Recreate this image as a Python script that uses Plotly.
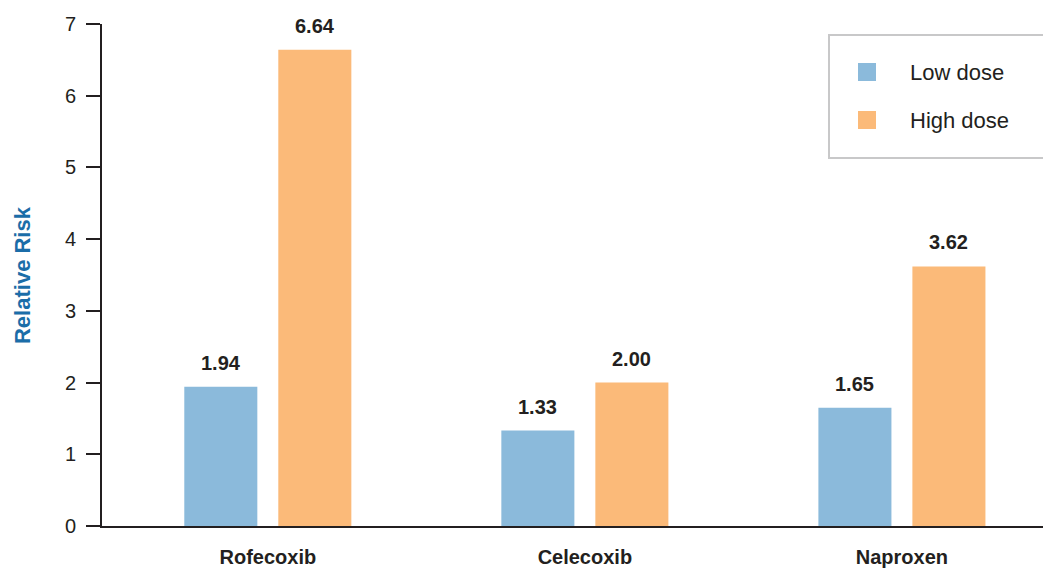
import plotly.graph_objects as go

drugs = ["Rofecoxib", "Celecoxib", "Naproxen"]
low_dose = [1.94, 1.33, 1.65]
high_dose = [6.64, 2.00, 3.62]
series_names = ["Low dose", "High dose"]
y_ticks = [0, 1, 2, 3, 4, 5, 6, 7]

BLUE = "#8BBADB"
ORANGE = "#FBBA79"
INK = "#231F20"
FONT = "Liberation Sans, Arial, sans-serif"

BARGAP = 0.407
GROUPGAP = 0.223

fig = go.Figure()
for name, vals, color in [(series_names[0], low_dose, BLUE),
                          (series_names[1], high_dose, ORANGE)]:
    fig.add_trace(go.Bar(x=drugs, y=vals, name=name, marker_color=color,
                         marker_line_width=0, showlegend=False))

# value labels above each bar, centred over its bar within the group
slot = (1 - BARGAP) / 2
offsets = [-slot / 2, slot / 2]
for k, vals in enumerate([low_dose, high_dose]):
    for i, v in enumerate(vals):
        fig.add_annotation(x=i + offsets[k], y=v, xref="x", yref="y",
                           text=f"<b>{v:.2f}</b>", showarrow=False,
                           yanchor="bottom", yshift=11,
                           font=dict(family=FONT, size=20, color=INK))

# y-axis title
fig.add_annotation(x=-0.085, y=0.5, xref="paper", yref="paper",
                   text="<b>Relative Risk</b>", textangle=-90, showarrow=False,
                   xanchor="center", yanchor="middle",
                   font=dict(family=FONT, size=22, color="#1B6DA8"))

# legend box drawn in pixel-aligned paper coordinates
W, H = 1043, 569
L, T, B = 102, 24, 43
pw, ph = W - L, H - T - B


def px(x):
    return (x - L) / pw


def py(y):
    return (H - B - y) / ph


fig.add_shape(type="rect", xref="paper", yref="paper",
              x0=px(829), x1=px(1050), y0=py(158), y1=py(35),
              line=dict(color="#C8C8C9", width=2), fillcolor="white")
for name, color, yc in [(series_names[0], BLUE, 72), (series_names[1], ORANGE, 120)]:
    fig.add_shape(type="rect", xref="paper", yref="paper",
                  x0=px(858), x1=px(876), y0=py(yc + 9), y1=py(yc - 9),
                  line=dict(width=0), fillcolor=color)
    fig.add_annotation(x=px(908), y=py(yc), xref="paper", yref="paper",
                       text=name, showarrow=False, xanchor="left", yanchor="middle",
                       font=dict(family=FONT, size=22, color=INK))

fig.update_layout(
    width=W, height=H,
    margin=dict(l=L, r=0, t=T, b=B, autoexpand=False),
    paper_bgcolor="white", plot_bgcolor="white",
    barmode="group", bargap=BARGAP, bargroupgap=GROUPGAP,
    font=dict(family=FONT, color=INK),
)
fig.update_xaxes(range=[-0.523, 2.445], showgrid=False, zeroline=False,
                 showline=True, linecolor=INK, linewidth=2, ticks="",
                 tickfont=dict(family=FONT, size=20, color=INK),
                 tickvals=[0, 1, 2], ticktext=[f"<b>{d}</b>" for d in drugs],
                 ticklabelstandoff=12, automargin=False)
fig.update_yaxes(range=[0, 7], tickvals=y_ticks, showgrid=False, zeroline=False,
                 showline=True, linecolor=INK, linewidth=2,
                 ticks="outside", ticklen=14, tickwidth=2, tickcolor=INK,
                 tickfont=dict(family=FONT, size=20, color=INK),
                 ticklabelstandoff=6, automargin=False)

fig.write_html("out.html")
